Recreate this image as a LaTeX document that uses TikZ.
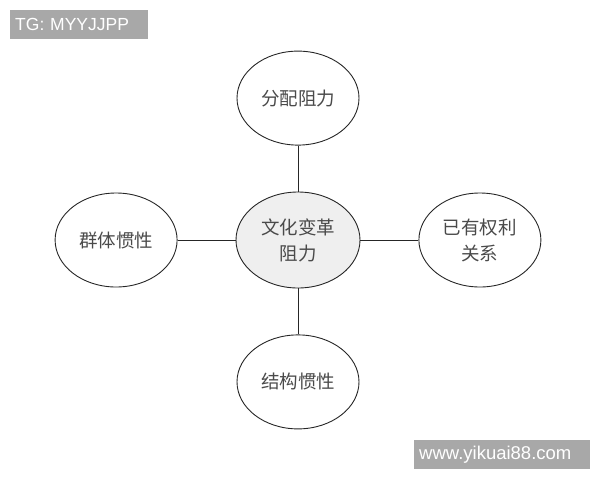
\documentclass[tikz,border=0pt]{standalone}
\usepackage{fontspec}
\setmainfont{Liberation Sans}
\newfontfamily\cjk{Noto Sans CJK SC}
\usetikzlibrary{positioning,shapes.geometric}

\definecolor{tagGray}{HTML}{A8A8A8}
\definecolor{coreFill}{HTML}{EFEFEF}
\definecolor{inkGray}{HTML}{4A4A4A}

\begin{document}
\begin{tikzpicture}[
    x=1pt, y=-1pt,
    node distance=46pt and 58pt,
    factor/.style={ellipse, draw=black!85, line width=0.9pt, inner sep=0pt, minimum width=122pt, minimum height=94pt, align=center, text=inkGray, font=\cjk\fontsize{18.5}{26}\selectfont},
    tag/.style={fill=tagGray, text=white, anchor=north west, inner xsep=5pt, inner ysep=0pt, minimum height=29pt, align=left, font=\fontsize{17.5}{20}\selectfont},
    link/.style={draw=black!85, line width=0.9pt}
  ]
    \useasboundingbox (0,0) rectangle (600,480);

    \node[factor, fill=coreFill, minimum width=124pt, minimum height=96pt] (core) at (298,240) {文化变革\\阻力};
    \node[factor, above=of core] (dist) {分配阻力};
    \node[factor, left=of core] (group) {群体惯性};
    \node[factor, right=of core] (power) {已有权利\\关系};
    \node[factor, below=of core] (struct) {结构惯性};

    \draw[link] (dist) -- (core);
    \draw[link] (group) -- (core);
    \draw[link] (core) -- (power);
    \draw[link] (core) -- (struct);

    \node[tag, text width=128pt] (tg) at (10,10) {TG: MYYJJPP};
    \node[tag, text width=166pt, font=\fontsize{18.5}{20}\selectfont] (site) at (414,440) {www.yikuai88.com};
  \end{tikzpicture}
\end{document}
